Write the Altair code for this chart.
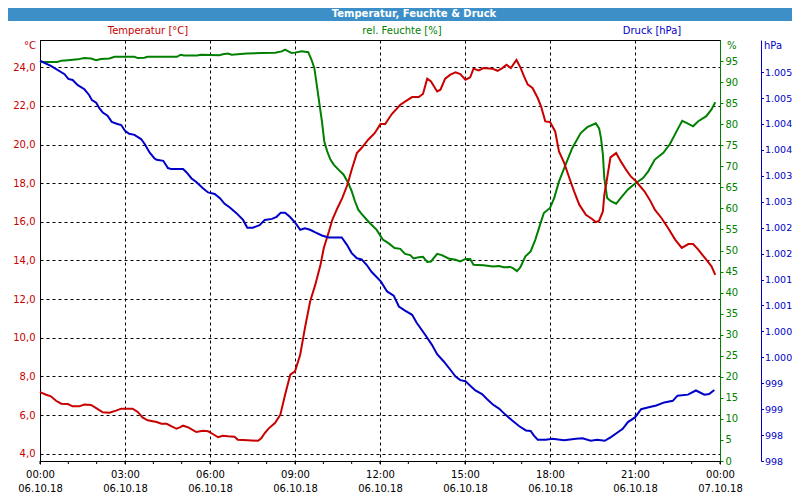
import altair as alt
import pandas as pd

DAY = "2018-10-06"
NEXT_DAY = "2018-10-07"

RED = "#c80000"
GREEN = "#008000"
BLUE = "#0000c8"
BAR = "#3d8fc8"
FONT = "DejaVu Sans"

temp_times = ["00:00","00:13","00:23","00:34","00:45","00:59","01:09","01:23","01:34","01:48","01:59","02:13","02:27","02:41","02:52","03:16","03:27","03:37","03:48","04:07","04:17","04:28","04:39","04:49","04:56","05:03","05:14","05:24","05:31","05:45","05:56","06:06","06:17","06:27","06:38","06:52","06:59","07:20","07:42","07:49","07:56","08:04","08:18","08:29","08:39","08:50","09:00","09:11","09:21","09:32","09:43","09:54","10:01","10:12","10:19","10:30","10:40","10:51","11:00","11:11","11:21","11:35","11:49","12:01","12:11","12:25","12:43","12:57","13:08","13:22","13:31","13:40","13:48","14:01","14:08","14:18","14:29","14:40","14:50","15:01","15:11","15:18","15:29","15:39","15:58","16:09","16:19","16:28","16:37","16:49","16:58","17:05","17:13","17:23","17:34","17:41","17:50","18:00","18:11","18:19","18:30","18:41","18:51","19:02","19:16","19:29","19:37","19:44","19:52","19:55","20:01","20:08","20:20","20:30","20:41","20:51","21:02","21:20","21:31","21:42","21:56","22:10","22:25","22:39","22:53","23:03","23:14","23:28","23:42","23:50"]
temp_values = [7.19,7.05,6.97,6.74,6.59,6.57,6.45,6.45,6.54,6.52,6.36,6.14,6.12,6.23,6.33,6.33,6.16,5.88,5.73,5.64,5.55,5.55,5.41,5.29,5.36,5.45,5.36,5.22,5.12,5.19,5.16,5.02,4.85,4.93,4.90,4.88,4.72,4.69,4.67,4.81,5.07,5.30,5.60,6.02,7.05,8.09,8.26,9.12,10.50,11.88,12.75,13.78,14.65,15.51,16.11,16.72,17.23,17.92,18.70,19.56,19.82,20.25,20.60,21.06,21.06,21.58,22.06,22.29,22.46,22.46,22.62,23.41,23.27,22.75,22.84,23.41,23.62,23.74,23.65,23.36,23.48,23.93,23.84,23.96,23.93,23.82,23.96,24.13,23.96,24.38,23.96,23.53,23.10,22.93,22.41,21.98,21.20,21.17,20.68,19.65,19.05,18.27,17.58,16.89,16.37,16.15,15.99,16.06,16.54,17.40,18.27,19.34,19.56,19.13,18.70,18.35,18.10,17.58,17.15,16.63,16.20,15.68,15.08,14.65,14.85,14.85,14.56,14.13,13.70,13.26]

hum_times = ["00:00","00:37","00:45","00:59","01:20","01:34","01:48","01:59","02:09","02:27","02:38","03:20","03:27","03:41","03:48","04:50","04:58","05:05","05:33","05:41","06:20","06:27","06:38","06:46","07:18","07:50","08:18","08:32","08:39","08:46","08:53","09:00","09:14","09:28","09:35","09:41","09:46","09:51","09:57","10:02","10:08","10:15","10:22","10:32","10:43","10:53","11:00","11:07","11:14","11:21","11:32","11:42","11:53","12:02","12:06","12:17","12:31","12:43","12:53","13:04","13:11","13:22","13:31","13:40","13:48","14:01","14:11","14:25","14:40","14:50","15:01","15:11","15:18","15:39","15:59","16:12","16:22","16:36","16:43","16:50","16:57","17:08","17:19","17:29","17:40","17:47","18:00","18:09","18:19","18:33","18:47","19:05","19:19","19:37","19:44","19:48","19:52","19:55","20:01","20:09","20:20","20:30","20:45","20:59","21:17","21:28","21:42","22:00","22:14","22:28","22:40","22:49","23:03","23:14","23:31","23:42","23:50"]
hum_values = [94.8,94.8,95.1,95.2,95.4,95.7,95.6,95.2,95.5,95.6,96.0,96.0,95.7,95.8,96.0,96.0,96.5,96.3,96.3,96.5,96.4,96.6,96.8,96.5,96.8,96.9,97.0,97.3,97.7,97.3,96.9,97.0,97.3,97.1,95.3,93.3,89.4,85.4,80.7,75.9,73.6,71.6,70.4,69.2,68.0,66.0,64.1,61.7,59.7,58.7,57.3,56.1,54.9,53.3,52.6,51.8,50.6,50.4,49.2,48.9,48.1,48.4,48.5,47.3,47.4,49.2,48.9,48.1,47.8,47.4,48.0,48.0,46.6,46.5,46.2,46.3,46.0,46.1,45.7,45.1,46.0,48.6,49.8,52.6,56.5,58.9,60.1,62.5,66.4,70.4,74.3,77.9,79.3,80.2,79.0,76.7,72.8,67.2,62.5,61.7,61.1,62.5,64.5,65.8,67.2,68.8,71.6,73.2,75.3,78.3,80.8,80.3,79.5,80.7,81.9,83.5,85.2]

pres_times = ["00:00","00:23","00:52","01:00","01:09","01:20","01:34","01:44","01:50","01:59","02:06","02:13","02:23","02:32","02:44","02:52","03:00","03:09","03:20","03:34","03:42","03:52","04:02","04:07","04:21","04:31","04:38","05:03","05:10","05:21","05:31","05:45","05:56","06:10","06:21","06:31","06:42","06:56","07:10","07:19","07:31","07:45","07:56","08:11","08:21","08:30","08:39","08:49","09:00","09:11","09:21","09:32","09:43","09:57","10:11","10:39","10:50","11:00","11:11","11:21","11:32","11:42","12:02","12:15","12:29","12:40","12:53","13:08","13:18","13:36","13:50","14:01","14:15","14:29","14:40","14:50","15:01","15:11","15:22","15:36","15:47","15:59","16:12","16:26","16:40","16:55","17:09","17:19","17:26","17:34","17:51","18:05","18:30","18:55","19:09","19:26","19:40","19:56","20:09","20:23","20:34","20:45","21:00","21:13","21:27","21:45","22:02","22:20","22:30","22:52","23:09","23:27","23:37","23:48"]
pres_values = [1005.22,1005.12,1004.96,1004.87,1004.85,1004.75,1004.67,1004.56,1004.46,1004.41,1004.30,1004.22,1004.16,1004.04,1004.00,1003.98,1003.87,1003.81,1003.79,1003.71,1003.61,1003.45,1003.34,1003.31,1003.29,1003.15,1003.13,1003.13,1003.07,1002.95,1002.88,1002.76,1002.68,1002.65,1002.57,1002.46,1002.39,1002.28,1002.15,1002.00,1002.00,1002.05,1002.15,1002.17,1002.21,1002.29,1002.29,1002.21,1002.10,1001.96,1001.99,1001.96,1001.91,1001.85,1001.81,1001.81,1001.67,1001.51,1001.41,1001.39,1001.28,1001.15,1000.96,1000.77,1000.69,1000.48,1000.40,1000.32,1000.16,999.93,999.74,999.56,999.42,999.26,999.13,999.06,999.04,998.95,998.86,998.79,998.69,998.59,998.51,998.39,998.28,998.17,998.09,998.08,997.99,997.91,997.91,997.93,997.90,997.93,997.94,997.89,997.91,997.89,997.96,998.05,998.12,998.25,998.34,998.50,998.53,998.57,998.63,998.66,998.76,998.78,998.86,998.78,998.79,998.87]

major_hours = [0, 3, 6, 9, 12, 15, 18, 21, 24]
minor_hours = list(range(0, 25))
temp_ticks = [4, 6, 8, 10, 12, 14, 16, 18, 20, 22, 24]
hum_ticks = list(range(0, 100, 5))
pres_ticks = [997.5 + 0.5 * i for i in range(16)]

temp_domain = [3.622, 25.413]
hum_domain = [0, 100]
pres_domain = [997.5, 1005.62]

chart_title = "Temperatur, Feuchte & Druck"
temp_label = "Temperatur [°C]"
hum_label = "rel. Feuchte [%]"
pres_label = "Druck [hPa]"


def stamp(hm):
    return f"{DAY}T{hm}:00"


def hour_stamp(h):
    return f"{NEXT_DAY}T00:00:00" if h == 24 else f"{DAY}T{h:02d}:00:00"


def dt(h):
    if h == 24:
        return alt.DateTime(year=2018, month=10, date=7, hours=0)
    return alt.DateTime(year=2018, month=10, date=6, hours=h)


temp_df = pd.DataFrame({"t": [stamp(s) for s in temp_times], "v": temp_values})
hum_df = pd.DataFrame({"t": [stamp(s) for s in hum_times], "v": hum_values})
pres_df = pd.DataFrame({"t": [stamp(s) for s in pres_times], "v": pres_values})
minor_df = pd.DataFrame({"t": [hour_stamp(h) for h in minor_hours]})

x_enc = alt.X(
    "t:T",
    scale=alt.Scale(domain=[dt(0), dt(24)]),
    axis=alt.Axis(
        values=[dt(h) for h in major_hours],
        labelExpr="[timeFormat(datum.value, '%H:%M'), timeFormat(datum.value, '%d.%m.%y')]",
        labelLineHeight=14,
        labelBaseline="top",
        labelPadding=5,
        labelFlush=False,
        labelOverlap=False,
        labelColor="black",
        tickSize=3,
        tickColor="black",
        domainColor="black",
        grid=True,
        gridColor="black",
        gridDash=[3, 3],
        gridOpacity=1,
        title=None,
    ),
)

temp_line = alt.Chart(temp_df).mark_line(color=RED, strokeWidth=2).encode(
    x=x_enc,
    y=alt.Y(
        "v:Q",
        scale=alt.Scale(domain=temp_domain, nice=False, zero=False),
        axis=alt.Axis(
            orient="left",
            values=temp_ticks,
            labelExpr="replace(format(datum.value, '.1f'), '.', ',')",
            labelColor=RED,
            ticks=False,
            tickSize=0,
            labelPadding=5,
            labelOverlap=False,
            domainColor="black",
            grid=True,
            gridColor="black",
            gridDash=[3, 3],
            gridOpacity=1,
            title=None,
        ),
    ),
)

hum_line = alt.Chart(hum_df).mark_line(color=GREEN, strokeWidth=2).encode(
    x=x_enc,
    y=alt.Y(
        "v:Q",
        scale=alt.Scale(domain=hum_domain, nice=False, zero=False),
        axis=alt.Axis(
            orient="right",
            values=hum_ticks,
            labelColor=GREEN,
            tickColor=GREEN,
            domainColor=GREEN,
            tickSize=3,
            labelPadding=2,
            labelOverlap=False,
            grid=False,
            title=None,
        ),
    ),
)

pres_line = alt.Chart(pres_df).mark_line(color=BLUE, strokeWidth=2).encode(
    x=x_enc,
    y=alt.Y(
        "v:Q",
        scale=alt.Scale(domain=pres_domain, nice=False, zero=False),
        axis=alt.Axis(
            orient="right",
            offset=41,
            values=pres_ticks,
            labelExpr="replace(format(datum.value, ',.0f'), ',', '.')",
            labelColor=BLUE,
            labelFontSize=9.5,
            tickColor=BLUE,
            domainColor=BLUE,
            tickSize=2.5,
            labelPadding=1,
            labelOverlap=False,
            grid=False,
            title=None,
        ),
    ),
)

minor_ticks = alt.Chart(minor_df).mark_rule(color="black", strokeWidth=1).encode(
    x=x_enc, y=alt.value(421), y2=alt.value(424)
)

title_bar = alt.Chart(pd.DataFrame({"a": [0]})).mark_rect(color=BAR).encode(
    x=alt.value(-32), x2=alt.value(752), y=alt.value(-32), y2=alt.value(-19)
)


def label(text, x, y, color, align="center", bold=False, size=10):
    return alt.Chart(pd.DataFrame({"s": [text]})).mark_text(
        color=color, align=align, baseline="middle", font=FONT,
        fontSize=size, fontWeight="bold" if bold else "normal",
    ).encode(x=alt.value(x), y=alt.value(y), text="s:N")


texts = [
    label(chart_title, 374, -26, "white", bold=True, size=10),
    label(temp_label, 108, -9, RED),
    label(hum_label, 362, -9, GREEN),
    label(pres_label, 612, -9, BLUE),
    label("°C", -4, 6, RED, align="right"),
    label("%", 687, 6, GREEN, align="left"),
    label("hPa", 724, 6, BLUE, align="left"),
]

chart = (
    alt.layer(hum_line, temp_line, pres_line, minor_ticks, title_bar, *texts)
    .resolve_scale(y="independent")
    .properties(
        width=680,
        height=421,
        padding={"left": 32, "top": 32, "right": 72, "bottom": 31},
        autosize=alt.AutoSizeParams(type="none"),
        background="white",
    )
    .configure_view(stroke="black", strokeWidth=1)
    .configure_axis(labelFont=FONT, labelFontSize=10)
)

chart.save("out.html", embed_options={"renderer": "svg", "actions": False})
